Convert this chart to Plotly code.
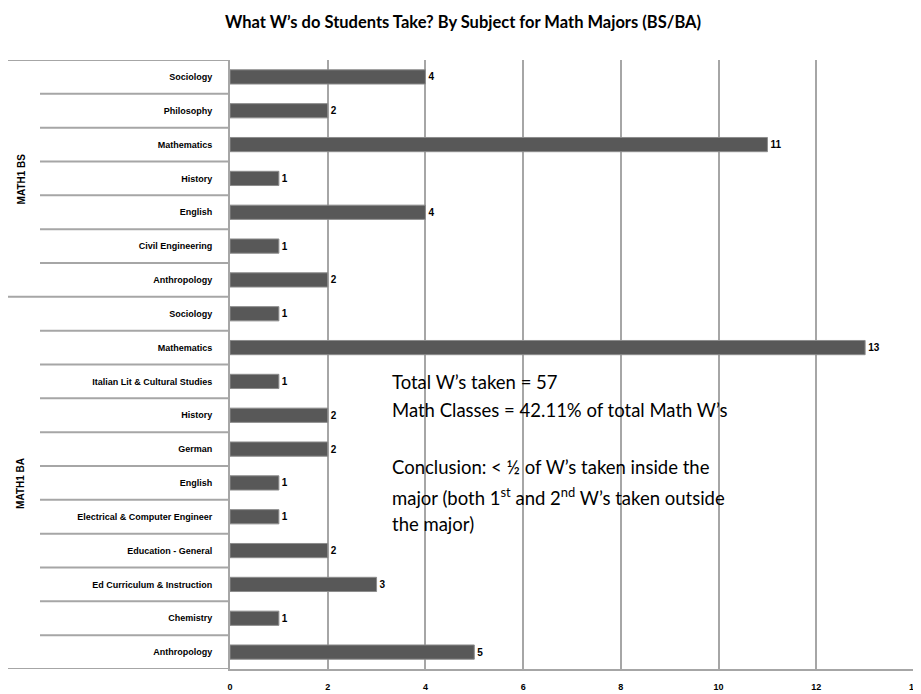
import plotly.graph_objects as go

# ---- data ----
group_names = ["MATH1 BA", "MATH1 BS"]
ba_subjects = ["Anthropology", "Chemistry", "Ed Curriculum & Instruction", "Education - General",
               "Electrical & Computer Engineer", "English", "German", "History",
               "Italian Lit & Cultural Studies", "Mathematics", "Sociology"]
ba_counts = [5, 1, 3, 2, 1, 1, 2, 2, 1, 13, 1]
bs_subjects = ["Anthropology", "Civil Engineering", "English", "History", "Mathematics",
               "Philosophy", "Sociology"]
bs_counts = [2, 1, 4, 1, 11, 2, 4]
x_ticks = [0, 2, 4, 6, 8, 10, 12, 14]
title_text = "What W\u2019s do Students Take? By Subject for Math Majors (BS/BA)"
note_lines = [
    "Total W\u2019s taken = 57",
    "Math Classes = 42.11% of total Math W\u2019s",
    "Conclusion: < \u00bd of W\u2019s taken inside the",
    "major (both 1<sup>st</sup> and 2<sup>nd</sup> W\u2019s taken outside",
    "the major)",
]

subjects = ba_subjects + bs_subjects
counts = ba_counts + bs_counts
pos = list(range(len(subjects)))

# page has an 8px body margin: figure sized to fit, screen coords offset by OFF
OFF = 8
W, H = 913, 686
ML, MR, MT, MB = 222, 7, 52, 25
PW = W - ML - MR
PH = H - MT - MB


def px_x(px):
    return (px - OFF - ML) / PW


def px_y(py):
    return (H - MB - (py - OFF)) / PH


GRID = "#a6a6a6"

fig = go.Figure(go.Bar(
    x=counts, y=pos, orientation="h", width=0.42,
    marker=dict(color="#585858", line=dict(color="#8c8c8c", width=1)),
    texttemplate="<b>%{x}</b>", textposition="outside",
    textfont=dict(size=10, color="black", family="Liberation Sans"),
    cliponaxis=False, hoverinfo="x+y",
))

shapes = []
n_ba = len(ba_subjects)
n = len(subjects)
# category separators
for i in range(n - 1):
    if i == n_ba - 1:
        continue
    shapes.append(dict(type="line", xref="paper", yref="y", x0=px_x(40), x1=0,
                       y0=i + 0.5, y1=i + 0.5, line=dict(color=GRID, width=2)))
# group separators
for b in [-0.5, n_ba - 0.5, n - 0.5]:
    shapes.append(dict(type="line", xref="paper", yref="y", x0=px_x(8), x1=0,
                       y0=b, y1=b, line=dict(color=GRID, width=2)))

annotations = []
group_centers = [(n_ba - 1) / 2, n_ba + (len(bs_subjects) - 1) / 2]
for g, c in zip(group_names, group_centers):
    annotations.append(dict(text="<b>" + g + "</b>", xref="paper", yref="y", x=px_x(21), y=c,
                            xanchor="center", yanchor="middle",
                            textangle=-90, showarrow=False,
                            font=dict(size=10, color="black", family="Liberation Sans")))

line_ys = [382, 410, 467, 496, 524]
for t, yy in zip(note_lines, line_ys):
    annotations.append(dict(text=t, xref="paper", yref="paper", x=px_x(390), y=px_y(yy),
                            xanchor="left", yanchor="middle", showarrow=False,
                            font=dict(size=18.5, color="black", family="Lato")))

fig.update_layout(
    width=W, height=H,
    margin=dict(l=ML, r=MR, t=MT, b=MB, pad=0, autoexpand=False),
    paper_bgcolor="white", plot_bgcolor="white",
    showlegend=False,
    title=dict(text="<b>" + title_text + "</b>", x=(463 - OFF) / W, xanchor="center",
               y=1 - (22 - OFF) / H, yanchor="middle",
               font=dict(size=16.5, color="black", family="Lato")),
    xaxis=dict(range=[0, 14], tickvals=x_ticks, showgrid=True, gridcolor=GRID, gridwidth=2,
               showline=True, linecolor=GRID, linewidth=2, zeroline=False, ticks="",
               ticklabelstandoff=8, automargin=False,
               tickfont=dict(size=9, color="black", family="Liberation Sans", weight="bold")),
    yaxis=dict(range=[-0.5, n - 0.5], tickvals=pos, ticktext=subjects, showgrid=False,
               showline=True, linecolor=GRID, linewidth=2, zeroline=False, ticks="",
               ticklabelstandoff=14, automargin=False,
               tickfont=dict(size=9, color="black", family="Liberation Sans", weight="bold")),
    shapes=shapes,
    annotations=annotations,
    bargap=0.5,
)

fig.write_html("out.html")
